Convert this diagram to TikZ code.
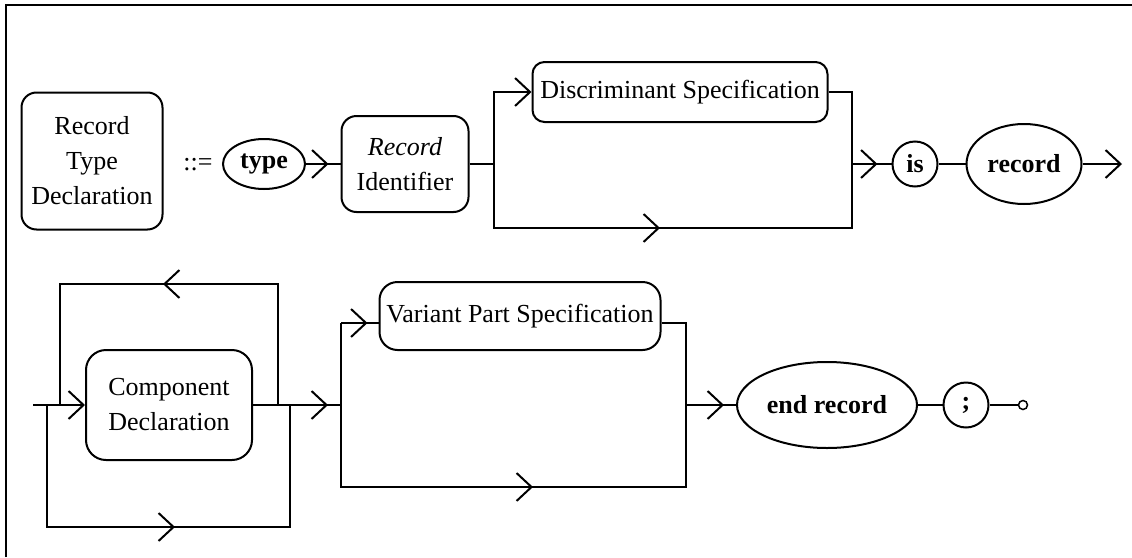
\documentclass[tikz,border=0pt]{standalone}
\usepackage{fontspec}
\setmainfont{Liberation Serif}
\usetikzlibrary{arrows.meta}
\usetikzlibrary{decorations.markings}
\usetikzlibrary{shapes.geometric}

\tikzset{
  synbox/.style={draw, rounded corners=15pt, align=center, inner sep=2pt},
  term/.style={draw, ellipse, inner sep=0pt, font=\fontsize{26}{35}\selectfont\bfseries},
  chev/.style={postaction={decorate},decoration={markings,
    mark=at position #1 with {\arrow{Straight Barb[length=15pt,width=28pt]}}}},
  tip/.style={-{Straight Barb[length=15pt,width=28pt]}},
}

\begin{document}
\begin{tikzpicture}[x=1pt,y=-1pt,line width=2pt,font=\fontsize{26}{35}\selectfont]
    \useasboundingbox (0,0) rectangle (1132,557);
    % frame
    \draw (6,557) -- (6,5) -- (1132,5);

    % first line
    \node[synbox, minimum width=141pt, minimum height=137pt] (rtd) at (92,161) {Record\\Type\\Declaration};
    \node (def) at (198,165) {::=};
    \node[term, minimum width=82pt, minimum height=50pt] (type) at (264,164) {type};
    \node[synbox, minimum width=127pt, minimum height=96pt] (rid) at (405,164) {\textit{Record}\\Identifier};
    \node[synbox, rounded corners=12pt, minimum width=295pt, minimum height=60pt, inner sep=1pt] (dsb) at (680,92) {Discriminant Specification};
    \node[term, circle, minimum size=45pt] (is) at (915,164) {is};
    \node[term, minimum width=115pt, minimum height=80pt] (rec) at (1024,164) {record};
    \coordinate (b1) at (494,164);
    \coordinate (b2) at (852,164);
    \coordinate (b1d) at (494,228);
    \coordinate (b2d) at (852,228);
    \coordinate (out) at (1122,164);

    \draw[chev=-12pt] (type) -- (rid);
    \draw (rid) -- (b1);
    \draw[tip] (b1) |- (dsb.west);
    \draw (dsb.east) -| (b2);
    \draw[chev=230pt] (b1) -- (b1d) -- (b2d) -- (b2);
    \draw[chev=-14pt] (b2) -- (is);
    \draw (is) -- (rec);
    \draw[tip] (rec) -- (out);

    % second line
    \coordinate (start) at (33,405);
    \coordinate (l1) at (47,405);
    \coordinate (l2) at (60,405);
    \coordinate (r2) at (278,405);
    \coordinate (r1) at (290,405);
    \coordinate (v1) at (341,405);
    \coordinate (v1t) at (341,323);
    \coordinate (v2) at (686,405);
    \coordinate (v2t) at (686,323);
    \node[synbox, rounded corners=20pt, minimum width=166pt, minimum height=110pt] (cd) at (169,405) {Component\\Declaration};
    \node[synbox, rounded corners=18pt, minimum width=281pt, minimum height=68pt, inner sep=1pt] (vps) at (520,316) {Variant Part Specification};
    \node[term, minimum width=180pt, minimum height=86pt] (er) at (827,405) {end record};
    \node[term, circle, minimum size=45pt] (semi) at (966,405) {;};
    \node[draw, circle, minimum size=9pt, inner sep=0pt, line width=1.5pt] (stop) at (1023,405) {};

    \draw[tip] (start) -- (cd);
    \draw[chev=250pt] (l1) -- (47,527) -- (290,527) -- (r1);
    \draw[chev=236pt] (r2) -- (278,284) -- (60,284) -- (l2);
    \draw[chev=-13pt] (cd) -- (v1);
    \draw (v1) -- (v1t);
    \draw[chev=-11pt] (v1t) -- (v1t -| vps.west);
    \draw (v2t -| vps.east) -- (v2t) -- (v2);
    \draw[chev=274pt] (v1) -- (341,487) -- (686,487) -- (v2);
    \draw[chev=-12pt] (v2) -- (er);
    \draw (er) -- (semi);
    \draw (semi) -- (stop);
\end{tikzpicture}
\end{document}
